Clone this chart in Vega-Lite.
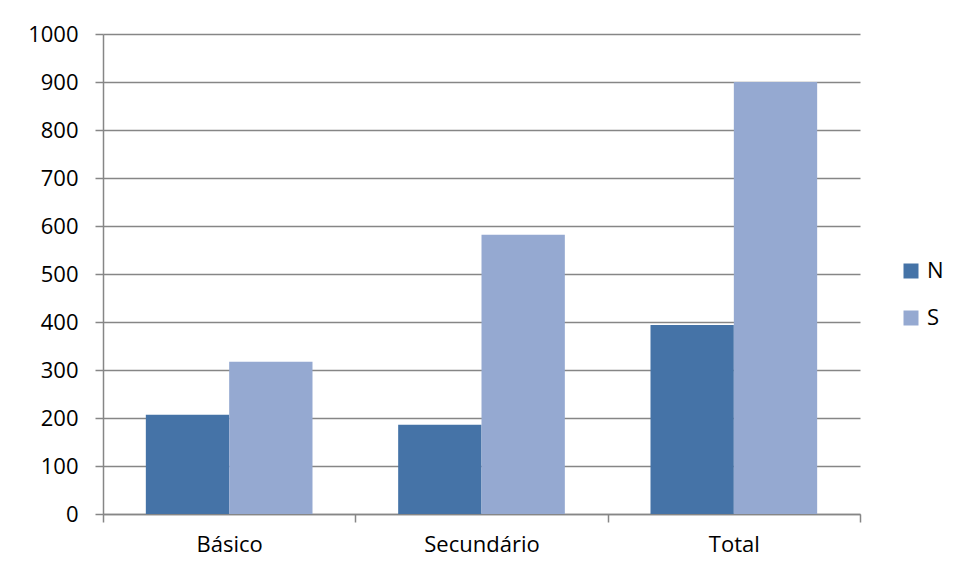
{
  "$schema": "https://vega.github.io/schema/vega-lite/v6.json",
  "width": 757,
  "height": 480,
  "padding": {"left": 103, "top": 34, "right": 96, "bottom": 64},
  "autosize": {"type": "none"},
  "background": "white",
  "data": {"values": [
    {"cat": "Básico", "grp": "N", "val": 207},
    {"cat": "Básico", "grp": "S", "val": 317},
    {"cat": "Secundário", "grp": "N", "val": 186},
    {"cat": "Secundário", "grp": "S", "val": 582},
    {"cat": "Total", "grp": "N", "val": 394},
    {"cat": "Total", "grp": "S", "val": 900}
  ]},
  "mark": {"type": "bar"},
  "encoding": {
    "x": {
      "field": "cat", "type": "nominal", "sort": null, "title": null,
      "scale": {"paddingInner": 0, "paddingOuter": 0},
      "axis": {
        "labelAngle": 0, "labelFont": "Open Sans", "labelFontSize": 22, "labelColor": "#000000",
        "domainColor": "#868686", "domainWidth": 1.5, "tickColor": "#868686", "tickWidth": 1.5,
        "tickSize": 8, "tickBand": "extent", "labelPadding": 12, "grid": false
      }
    },
    "xOffset": {"field": "grp", "type": "nominal", "scale": {"paddingInner": 0, "paddingOuter": 0.514}},
    "y": {
      "field": "val", "type": "quantitative", "title": null,
      "scale": {"domain": [0, 1000], "nice": false},
      "axis": {
        "values": [0, 100, 200, 300, 400, 500, 600, 700, 800, 900, 1000],
        "format": "d",
        "labelFont": "Open Sans", "labelFontSize": 22, "labelColor": "#000000",
        "domainColor": "#868686", "domainWidth": 1.5, "tickColor": "#868686", "tickWidth": 1.5,
        "tickSize": 8, "labelPadding": 17, "grid": true, "gridColor": "#868686", "gridWidth": 1.5
      }
    },
    "color": {
      "field": "grp", "type": "nominal", "title": null,
      "scale": {"domain": ["N", "S"], "range": ["#4573A7", "#95A9D1"]},
      "legend": {
        "orient": "none", "legendX": 797, "legendY": 226,
        "symbolType": "square", "symbolSize": 225, "symbolStrokeWidth": 0,
        "labelFont": "Open Sans", "labelFontSize": 22, "labelColor": "#000000",
        "rowPadding": 25, "labelOffset": 5
      }
    }
  },
  "config": {"view": {"stroke": null}}
}
